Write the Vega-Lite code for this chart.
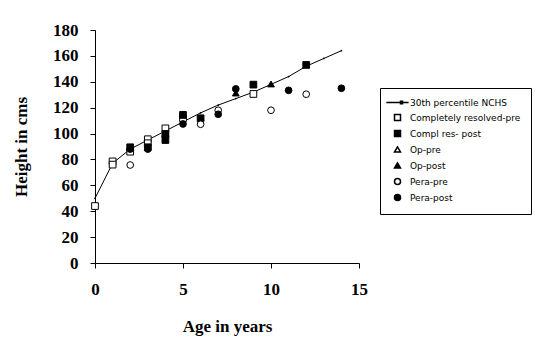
{
  "$schema": "https://vega.github.io/schema/vega-lite/v6.json",
  "autosize": "none",
  "padding": {"left": 95, "top": 30, "right": 176, "bottom": 94},
  "width": 264,
  "height": 233,
  "background": "white",
  "config": {
    "view": {"stroke": null},
    "axis": {
      "domainColor": "black",
      "tickColor": "black",
      "tickSize": 5,
      "grid": false,
      "labelOverlap": false,
      "labelFlush": false,
      "labelSeparation": 0,
      "labelFont": "Liberation Serif",
      "labelFontWeight": "bold",
      "labelFontSize": 17,
      "labelColor": "black",
      "titleFont": "Liberation Serif",
      "titleFontWeight": "bold",
      "titleFontSize": 17,
      "titleColor": "black"
    }
  },
  "datasets": {
    "nchs": [
      {"age": 0, "height": 50},
      {"age": 1, "height": 77},
      {"age": 2, "height": 88},
      {"age": 3, "height": 95},
      {"age": 4, "height": 102},
      {"age": 5, "height": 109},
      {"age": 6, "height": 116},
      {"age": 7, "height": 122},
      {"age": 8, "height": 127},
      {"age": 9, "height": 132},
      {"age": 10, "height": 138},
      {"age": 11, "height": 144},
      {"age": 12, "height": 152},
      {"age": 13, "height": 158},
      {"age": 14, "height": 164}
    ],
    "pts": [
      {"series": "Completely resolved-pre", "age": 0, "height": 44},
      {"series": "Completely resolved-pre", "age": 1, "height": 78.5},
      {"series": "Completely resolved-pre", "age": 1, "height": 76},
      {"series": "Completely resolved-pre", "age": 2, "height": 86},
      {"series": "Completely resolved-pre", "age": 3, "height": 95.6},
      {"series": "Completely resolved-pre", "age": 3, "height": 92.5},
      {"series": "Completely resolved-pre", "age": 4, "height": 104},
      {"series": "Completely resolved-pre", "age": 5, "height": 111.8},
      {"series": "Completely resolved-pre", "age": 9, "height": 130.6},
      {"series": "Compl res- post", "age": 2, "height": 89.4},
      {"series": "Compl res- post", "age": 3, "height": 89.4},
      {"series": "Compl res- post", "age": 4, "height": 95},
      {"series": "Compl res- post", "age": 4, "height": 99.7},
      {"series": "Compl res- post", "age": 5, "height": 114.4},
      {"series": "Compl res- post", "age": 6, "height": 111.8},
      {"series": "Compl res- post", "age": 9, "height": 137.8},
      {"series": "Compl res- post", "age": 12, "height": 153},
      {"series": "Op-post", "age": 8, "height": 131.3},
      {"series": "Op-post", "age": 10, "height": 138.3},
      {"series": "Pera-pre", "age": 2, "height": 75.7},
      {"series": "Pera-pre", "age": 6, "height": 107.2},
      {"series": "Pera-pre", "age": 7, "height": 118},
      {"series": "Pera-pre", "age": 10, "height": 118},
      {"series": "Pera-pre", "age": 12, "height": 130.4},
      {"series": "Pera-post", "age": 2, "height": 88},
      {"series": "Pera-post", "age": 3, "height": 88},
      {"series": "Pera-post", "age": 4, "height": 98},
      {"series": "Pera-post", "age": 5, "height": 107.4},
      {"series": "Pera-post", "age": 7, "height": 114.9},
      {"series": "Pera-post", "age": 8, "height": 134.5},
      {"series": "Pera-post", "age": 11, "height": 133.4},
      {"series": "Pera-post", "age": 14, "height": 135}
    ]
  },
  "encoding": {
    "x": {
      "field": "age", "type": "quantitative",
      "scale": {"domain": [0, 15], "nice": false, "zero": false},
      "axis": {"values": [0, 5, 10, 15], "title": "Age in years", "labelPadding": 13, "titlePadding": 21, "labelFlush": false}
    },
    "y": {
      "field": "height", "type": "quantitative",
      "scale": {"domain": [0, 180], "nice": false},
      "axis": {"values": [0, 20, 40, 60, 80, 100, 120, 140, 160, 180], "title": "Height in cms", "labelPadding": 12, "titlePadding": 22, "labelOverlap": false, "labelFlush": false}
    }
  },
  "layer": [
    {
      "data": {"name": "nchs"},
      "mark": {"type": "line", "color": "black", "strokeWidth": 1, "point": {"filled": true, "color": "black", "size": 3}}
    },
    {
      "data": {"name": "pts"},
      "mark": {"type": "point", "stroke": "black", "strokeWidth": 1, "size": 45, "opacity": 1},
      "encoding": {
        "shape": {
          "field": "series", "type": "nominal",
          "scale": {
            "domain": ["30th percentile NCHS", "Completely resolved-pre", "Compl res- post", "Op-pre", "Op-post", "Pera-pre", "Pera-post"],
            "range": ["M-3.7,0H3.7M1,-0.4H1.7V0.4H1Z", "square", "square", "triangle-up", "triangle-up", "circle", "circle"]
          },
          "legend": {
            "orient": "none", "legendX": 285, "legendY": 58,
            "title": null,
            "strokeColor": "black",
            "padding": 10,
            "symbolOffset": 3,
            "symbolSize": 36,
            "labelFont": "DejaVu Sans",
            "labelFontSize": 9,
            "labelColor": "black",
            "labelOffset": 8,
            "rowPadding": 3,
            "labelLimit": 200,
            "encode": {
              "symbols": {
                "update": {
                  "stroke": {"value": "black"},
                  "strokeWidth": {"value": 1},
                  "opacity": {"value": 1}
                }
              }
            }
          }
        },
        "fill": {
          "field": "series", "type": "nominal",
          "scale": {
            "domain": ["30th percentile NCHS", "Completely resolved-pre", "Compl res- post", "Op-pre", "Op-post", "Pera-pre", "Pera-post"],
            "range": ["black", "white", "black", "white", "black", "white", "black"]
          }
        }
      }
    }
  ]
}
